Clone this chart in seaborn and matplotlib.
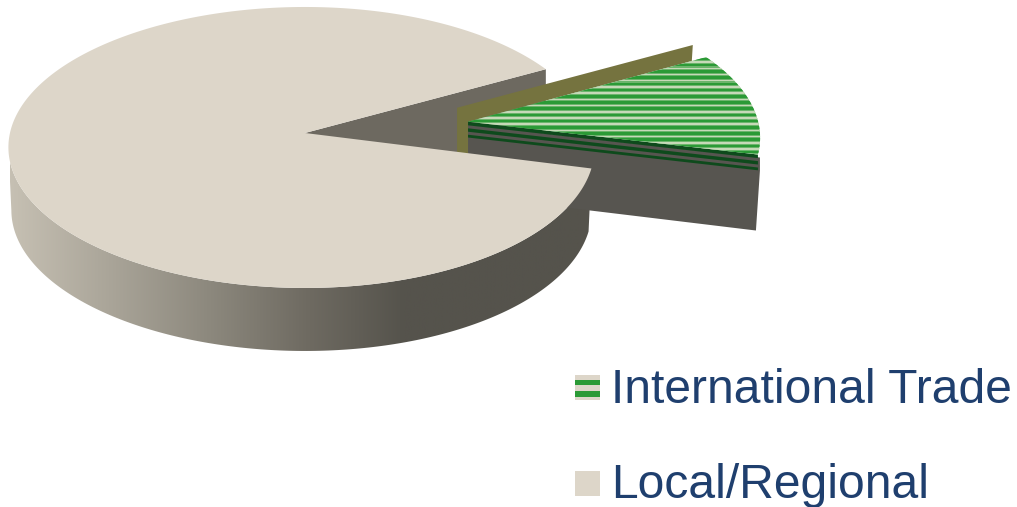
import numpy as np
import matplotlib
matplotlib.use("Agg")
import matplotlib.pyplot as plt
from matplotlib.patches import Polygon
import seaborn as sns

# Chart data
categories = ["International Trade", "Local/Regional"]
shares = [12, 88]
explode = [0.565, 0.0]
start_angle = -14.4

# Colours
local_top = "#ddd6c9"
wall_cut = "#6d6960"
wall_dark = "#575550"
olive = "#75733f"
green = "#2b9a36"
green_mid = "#6cb46c"
green_pale = "#c6d9b8"
dark_green = "#0e4a1c"
text_blue = "#1f3f6e"
shade = sns.blend_palette(["#c6c0b3", "#aaa599", "#8d897e", "#6f6b62", "#55534c"], 256, as_cmap=True)

# Perspective of the pie's tilted plane, in figure pixels
CX, CY = 305.0, 133.0
AX, AY = 293.0, 139.0
PERSP = 0.103
DEPTH = 63.0
WEDGE_DEPTH = 74.0
BOTTOM_SCALE = 0.99
LOCAL_SCALE = 0.995
SIDE_BIAS = 0.012
WEDGE_RADIUS = 0.995
WEDGE_LIFT = 3.5
WEDGE_SHEAR = 0.06


def project(u, v, bias=0.0, scale=1.0):
    u, v = np.asarray(u, float), np.asarray(v, float)
    w = 1 + PERSP * v
    return CX + scale * AX * (u - bias * u * u) / w, CY - AY * v / w


def rim(a0, a1, offset=(0.0, 0.0), radius=1.0, bias=0.0, scale=1.0, n=200):
    t = np.radians(np.linspace(a0, a1, n))
    return project(offset[0] + radius * np.cos(t), offset[1] + radius * np.sin(t), bias, scale)


sns.set_theme(style="white")
plt.rcParams["font.family"] = ["Liberation Sans", "DejaVu Sans"]

fig = plt.figure(figsize=(10.17, 5.07), dpi=100)
ax = fig.add_axes([0, 0, 1, 1])

fractions = np.array(shares) / np.sum(shares) * 360.0
trade_a0, trade_a1 = start_angle, start_angle + fractions[0]
local_a0, local_a1 = trade_a1, trade_a1 + fractions[1]

# Outer wall of the large slice, shaded from left to right
tx, ty = rim(186, local_a1, bias=SIDE_BIAS, scale=LOCAL_SCALE)
bx = CX + (tx - CX) * BOTTOM_SCALE
by = ty + DEPTH
outline = Polygon(np.c_[np.r_[tx, bx[::-1]], np.r_[ty, by[::-1]]], closed=True, fc="none", ec="none")
ax.add_patch(outline)
ramp = np.linspace(0, 1, 256).reshape(1, -1)
im = ax.imshow(ramp, cmap=shade, extent=(10, 405, 360, 100), aspect="auto", zorder=1)
solid = ax.imshow(ramp * 0 + 1, cmap=shade, vmin=0, vmax=1, extent=(405, 600, 360, 100), aspect="auto", zorder=1)
im.set_clip_path(outline)
solid.set_clip_path(outline)
ax.set_xlim(0, 1017)
ax.set_ylim(507, 0)
ax.axis("off")

# Cut face of the large slice, seen through the gap
ex, ey = rim(local_a0, local_a0, bias=SIDE_BIAS, scale=LOCAL_SCALE, n=1)
ax.add_patch(Polygon([(CX, CY), (ex[0], ey[0]), (ex[0], ey[0] + DEPTH), (CX, CY + DEPTH)],
                     fc=wall_cut, ec="none", zorder=2))

# Pulled-out slice
mid = np.radians((trade_a0 + trade_a1) / 2)
off = (explode[0] * np.cos(mid), explode[0] * np.sin(mid))
ox, oy = project(off[0], off[1])
oy = oy - 1.5
rx, ry = rim(trade_a0, trade_a1, off, WEDGE_RADIUS)
ry = ry - WEDGE_LIFT
rx = rx - WEDGE_SHEAR * (ry - oy)

# Back strip of the pulled-out slice, stopping short of the rim
end_x = ox + 0.94 * (rx[-1] - ox)
end_y = oy + 0.94 * (ry[-1] - oy)
strip = [(ox, oy), (end_x, end_y), (end_x + 1, end_y - 16), (ox - 11, oy - 14),
         (ox - 11, oy + 36), (ox, oy + 36)]
ax.add_patch(Polygon(strip, fc=olive, ec="none", zorder=3))

# Front wall of the pulled-out slice
ax.add_patch(Polygon([(ox, oy + 3), (rx[0] + 2, ry[0] + 3), (rx[0] + 2, ry[0] + 16), (rx[0] - 2, ry[0] + WEDGE_DEPTH + 2),
                      (ox, oy + WEDGE_DEPTH)],
                     fc=wall_dark, ec="none", zorder=3))
for lo, hi in [(0, 3.6), (6.6, 10), (13, 15.8)]:
    ax.add_patch(Polygon([(ox, oy + lo), (rx[0], ry[0] + lo), (rx[0], ry[0] + hi), (ox, oy + hi)],
                         fc=dark_green, ec="none", zorder=4))

# Striped top of the pulled-out slice
top = Polygon(np.c_[np.r_[ox, rx], np.r_[oy, ry]], closed=True, fc=green_mid, ec="none", zorder=5)
ax.add_patch(top)
for y in np.arange(51.5, 165, 6.2):
    band = ax.axhspan(y, y + 2.6, color=green, lw=0, zorder=6)
    band.set_clip_path(top)
    light = ax.axhspan(y + 3.6, y + 5.2, color=green_pale, lw=0, zorder=6)
    light.set_clip_path(top)

# Top face of the large slice
lx, ly = rim(local_a0, local_a1, bias=SIDE_BIAS, scale=LOCAL_SCALE, n=600)
ax.add_patch(Polygon(np.c_[np.r_[CX, lx], np.r_[CY, ly]], closed=True, fc=local_top, ec="none", zorder=7))

# Key
swatch_x, swatch_w = 575, 25
for name, top_y, base in zip(categories, [375, 471], [403, 498]):
    ax.add_patch(Polygon([(swatch_x, top_y), (swatch_x + swatch_w, top_y),
                          (swatch_x + swatch_w, top_y + swatch_w), (swatch_x, top_y + swatch_w)],
                         fc=local_top, ec="none", zorder=8))
    ax.text(611, base, name, color=text_blue, fontsize=34.6, ha="left", va="baseline", zorder=8)
for y0, y1 in [(380, 385), (391, 396.5)]:
    ax.add_patch(Polygon([(swatch_x, y0), (swatch_x + swatch_w, y0), (swatch_x + swatch_w, y1), (swatch_x, y1)],
                         fc=green, ec="none", zorder=9))

fig.savefig("out.png", dpi=100, facecolor="white")
